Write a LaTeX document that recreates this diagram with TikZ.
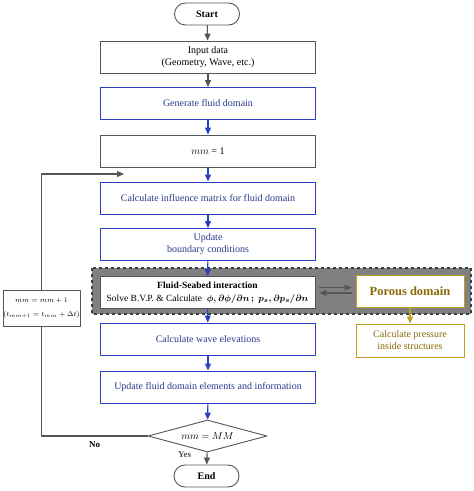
\documentclass[tikz,border=0pt]{standalone}
\usepackage{fontspec}
\setmainfont{Liberation Serif}
\usetikzlibrary{shapes.geometric,arrows.meta}
\definecolor{lineblue}{HTML}{2A3FBF}
\definecolor{textblue}{HTML}{2B3A8C}
\definecolor{darkline}{HTML}{555555}
\definecolor{goldline}{HTML}{C49B1E}
\definecolor{goldtext}{HTML}{8A6A05}
\tikzset{
  block/.style={draw=darkline, line width=0.9pt, fill=white, minimum width=215pt, minimum height=32pt, inner sep=1pt, align=center, font=\fontsize{10}{12}\selectfont},
  blueblock/.style={block, draw=lineblue, text=textblue},
  goldblock/.style={block, draw=goldline, text=goldtext, minimum width=108pt},
  terminal/.style={draw=darkline, line width=0.9pt, rounded corners=11pt, minimum width=65pt, minimum height=22pt, font=\bfseries\fontsize{10}{12}\selectfont},
  decision/.style={draw=darkline, line width=0.9pt, diamond, aspect=3.7, minimum width=119pt, minimum height=32pt, inner sep=0pt, font=\fontsize{10}{12}\selectfont},
  garrow/.style={->, darkline, line width=1.1pt},
  barrow/.style={->, lineblue, line width=1.1pt},
  oarrow/.style={->, goldline, line width=1.1pt}
}
\begin{document}
\begin{tikzpicture}[>={Triangle[length=7pt,width=6pt]}, x=1pt, y=-1pt, line join=round]
  \useasboundingbox (0,0) rectangle (474,491);
  % shaded interaction area
  \draw[dashed, line width=1.2pt, fill=black!50, draw=black!75] (92,268) rectangle (471,314);
  \node[terminal] (start) at (207,14) {Start};
  \node[block] (input) at (208,57) {Input data\\(Geometry, Wave, etc.)};
  \node[blueblock] (gen) at (208,103.5) {Generate fluid domain};
  \node[block] (mmone) at (208,151) {$mm$ = 1};
  \node[blueblock] (infl) at (208,198) {Calculate influence matrix for fluid domain};
  \node[blueblock] (upd) at (208,244.5) {Update\\boundary conditions};
  \node[block, fill=white, font=\fontsize{9.5}{13}\selectfont] (fsi) at (207.5,292.5)
    {\textbf{Fluid-Seabed interaction}\\Solve B.V.P. \& Calculate\ \ {\boldmath$\phi, \partial\phi/\partial n\,;\ p_s, \partial p_s/\partial n$}};
  \node[goldblock, font=\bfseries\fontsize{12.5}{14}\selectfont] (porous) at (410,291) {Porous domain};
  \node[goldblock, minimum height=33pt] (press) at (410,340.5) {Calculate pressure\\inside structures};
  \node[blueblock] (waves) at (208,339) {Calculate wave elevations};
  \node[blueblock] (updfl) at (208,387) {Update fluid domain elements and information};
  \node[decision] (check) at (207.5,436) {$mm = MM$};
  \node[terminal] (end) at (206.5,476) {End};
  \node[block, minimum width=77pt, minimum height=36pt, inner sep=0pt, font=\fontsize{7.2}{14}\selectfont] (incr) at (41.5,308)
    {$mm = mm + 1$\\$(t_{\scriptscriptstyle mm+1} = t_{\scriptscriptstyle mm} + \Delta t)$};
  \coordinate (loopin) at (124,174);
  % main flow
  \draw[garrow] (start) -- (input);
  \draw[garrow] (input) -- (gen);
  \draw[barrow] (gen) -- (mmone);
  \draw[barrow] (mmone) -- (infl);
  \draw[barrow] (infl) -- (upd);
  \draw[barrow] (upd) -- (fsi);
  \draw[barrow] (fsi) -- (waves);
  \draw[barrow] (waves) -- (updfl);
  \draw[barrow] (updfl) -- (check);
  \draw[garrow] (check) -- (end) node[pos=0.2, left=12pt, font=\bfseries\fontsize{9}{10}\selectfont] {Yes};
  % porous coupling
  \draw[garrow, shorten <=4pt, shorten >=4pt] ([yshift=5pt]fsi.east) -- ([yshift=5pt]fsi.east -| porous.west);
  \draw[garrow, shorten <=4pt, shorten >=4pt] ([yshift=-2pt]porous.west) -- ([yshift=-2pt]porous.west -| fsi.east);
  \draw[oarrow] (porous) -- (press);
  % time loop
  \draw[darkline, line width=1.1pt] (check.west) -| (incr.south) node[pos=0.25, below=2pt, black, font=\bfseries\fontsize{9}{10}\selectfont] {No};
  \draw[garrow] (incr.north) |- (loopin);
\end{tikzpicture}
\end{document}
